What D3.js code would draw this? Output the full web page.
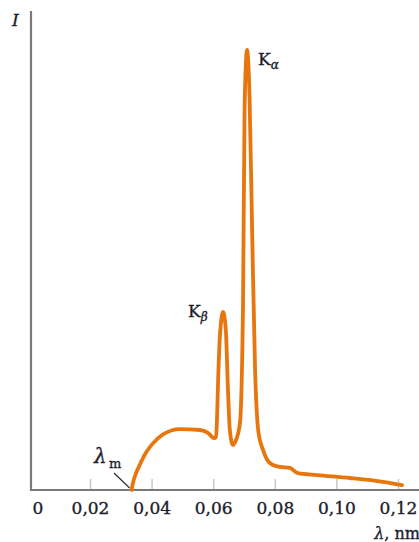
<!DOCTYPE html>
<html>
<head>
<meta charset="utf-8">
<script src="https://cdn.jsdelivr.net/npm/d3@7"></script>
<style>
  body { margin: 0; background: #fff; }
  text { font-family: "DejaVu Serif", "Liberation Serif", serif; fill: #1d1d2b; stroke: #1d1d2b; stroke-width: 0.35; }
</style>
</head>
<body>
<div id="canvas"></div>
<script>
// spectrum: wavelength (nm) and intensity (arb. units)
const lambda = [0.0335, 0.0340, 0.0350, 0.0362, 0.0380, 0.0400, 0.0437, 0.0492, 0.0557, 0.0583, 0.0603, 0.0609,
                0.0612, 0.0616, 0.0622, 0.0632, 0.0641, 0.0648, 0.0654, 0.0664, 0.0674, 0.0687,
                0.0697, 0.0702, 0.0710, 0.0718, 0.0727, 0.0736, 0.0747, 0.0762, 0.0775, 0.0794,
                0.0817, 0.0849, 0.0875, 0.0937, 0.1044, 0.1151, 0.1213];
const intensity = [0, 1.6, 3.6, 5.3, 7.6, 9.4, 11.6, 12.7, 12.5, 11.9, 10.8, 11.0,
                   14.0, 22.9, 32.3, 37.1, 33.3, 20.8, 12.5, 9.4, 10.4, 14.0,
                   39.6, 80, 91.7, 82, 52, 25, 12, 8.3, 6.3, 5.2,
                   4.8, 4.6, 3.5, 3.1, 2.5, 1.7, 1.0];
const tickValues = [0, 0.02, 0.04, 0.06, 0.08, 0.10, 0.12];
const tickLabels = ["0", "0,02", "0,04", "0,06", "0,08", "0,10", "0,12"];

const w = 419, h = 542;
const axisX = 31, axisY = 490;

const svg = d3.select("#canvas").append("svg")
  .attr("width", w).attr("height", h);

const x = d3.scaleLinear().domain([0, 0.13]).range([28.4, 28.4 + 0.13 * 3080]);
const y = d3.scaleLinear().domain([0, 100]).range([axisY, 10]);

// tick marks (light, pointing up) + labels
const xAxis = d3.axisBottom(x)
  .tickValues(tickValues)
  .tickSize(-11)
  .tickFormat((d, i) => tickLabels[i]);

const gx = svg.append("g")
  .attr("transform", `translate(0,${axisY})`)
  .call(xAxis);
gx.select(".domain").remove();
gx.selectAll(".tick line").attr("stroke", "#c8c8c8").attr("stroke-width", 1.5);
gx.selectAll(".tick").filter(d => d === 0).select("line").remove();
gx.selectAll(".tick text")
  .attr("y", 24).attr("dy", 0)
  .attr("font-size", 17)
  .attr("font-family", "DejaVu Serif")
  .attr("fill", "#1d1d2b")
  .attr("dx", d => d === 0 ? 9 : 0);

// axis lines
svg.append("line")
  .attr("x1", axisX).attr("x2", axisX).attr("y1", 11).attr("y2", axisY + 1)
  .attr("stroke", "#7a7a7a").attr("stroke-width", 2.2);
svg.append("line")
  .attr("x1", axisX).attr("x2", w).attr("y1", axisY).attr("y2", axisY)
  .attr("stroke", "#7a7a7a").attr("stroke-width", 2.2);

// curve
const pts = lambda.map((l, i) => [l, intensity[i]]);
const line = d3.line()
  .x(d => x(d[0]))
  .y(d => y(d[1]))
  .curve(d3.curveMonotoneX);

svg.append("path")
  .datum(pts)
  .attr("d", line)
  .attr("fill", "none")
  .attr("stroke", "#e8760e")
  .attr("stroke-width", 3.8)
  .attr("stroke-linejoin", "round")
  .attr("stroke-linecap", "round");

// axis titles
svg.append("text")
  .attr("x", 12).attr("y", 26)
  .attr("font-size", 17).attr("font-style", "italic")
  .text("I");

svg.append("text")
  .attr("x", w + 1).attr("y", 539)
  .attr("text-anchor", "end")
  .attr("font-size", 16)
  .html('<tspan font-style="italic">λ</tspan>, nm');

// λm marker
svg.append("line")
  .attr("x1", 114).attr("y1", 473)
  .attr("x2", x(lambda[0]) - 2).attr("y2", axisY - 2)
  .attr("stroke", "#333").attr("stroke-width", 1.3);
svg.append("text")
  .attr("x", 94).attr("y", 463)
  .attr("font-size", 20).attr("font-style", "italic")
  .text("λ");
svg.append("text")
  .attr("x", 109).attr("y", 468)
  .attr("font-size", 13)
  .text("m");

// peak labels
function peakLabel(px, py, sub) {
  const t = svg.append("text").attr("x", px).attr("y", py).attr("font-size", 17);
  t.append("tspan").text("K");
  t.append("tspan").attr("dy", 4).attr("font-size", 12).attr("font-style", "italic").text(sub);
}
peakLabel(188, 317, "β");
peakLabel(258, 65, "α");
</script>
</body>
</html>
